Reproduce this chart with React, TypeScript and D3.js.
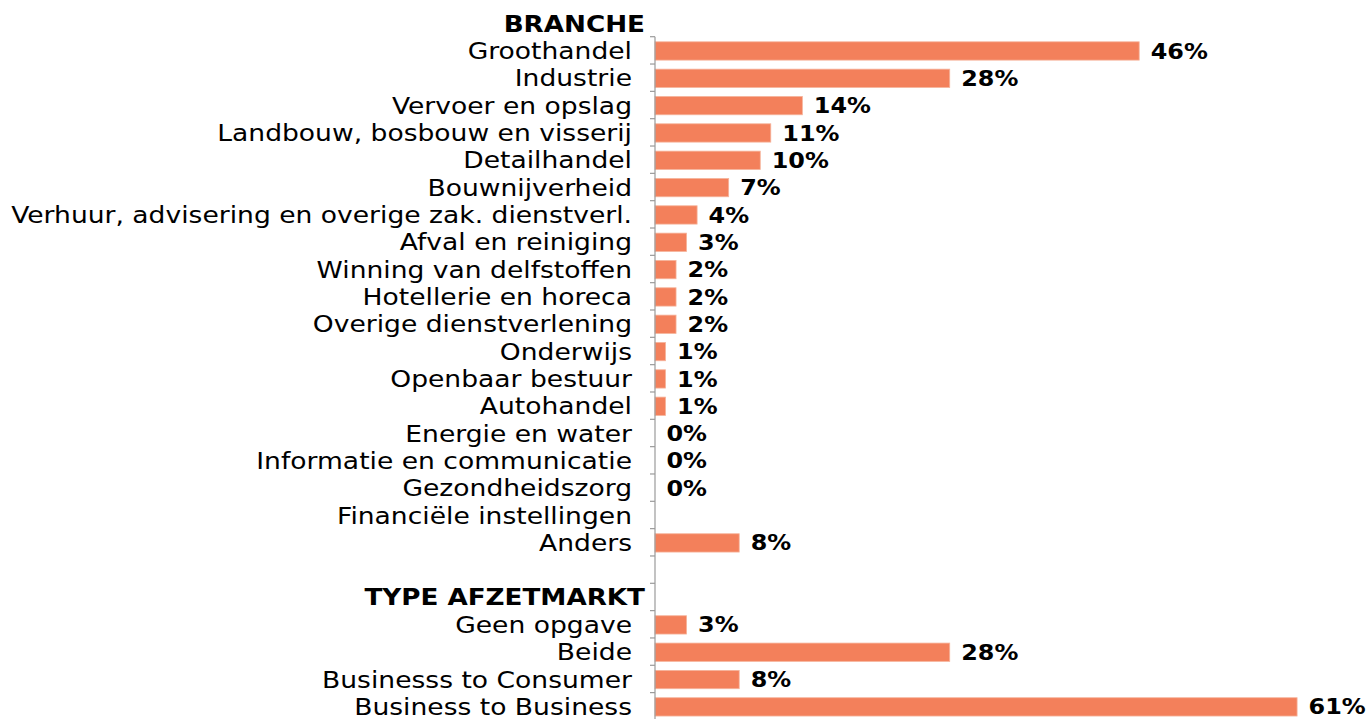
import React from "react";
import * as d3 from "d3";

const brancheTitle = "BRANCHE";
const brancheCategories = [
  "Groothandel",
  "Industrie",
  "Vervoer en opslag",
  "Landbouw, bosbouw en visserij",
  "Detailhandel",
  "Bouwnijverheid",
  "Verhuur, advisering en overige zak. dienstverl.",
  "Afval en reiniging",
  "Winning van delfstoffen",
  "Hotellerie en horeca",
  "Overige dienstverlening",
  "Onderwijs",
  "Openbaar bestuur",
  "Autohandel",
  "Energie en water",
  "Informatie en communicatie",
  "Gezondheidszorg",
  "Financiële instellingen",
  "Anders",
];
const brancheValues: (number | null)[] = [46, 28, 14, 11, 10, 7, 4, 3, 2, 2, 2, 1, 1, 1, 0, 0, 0, null, 8];

const afzetTitle = "TYPE AFZETMARKT";
const afzetCategories = ["Geen opgave", "Beide", "Businesss to Consumer", "Business to Business"];
const afzetValues: (number | null)[] = [3, 28, 8, 61];

const W = 1368;
const H = 719;
const SX = 1.165; // horizontal stretch of the original picture
const FONT = "'DejaVu Sans', Verdana, sans-serif";
const BAR = "#F3805B";

type Row = { key: string; label: string; value: number | null; kind: "header" | "cat" | "gap" };

const rows: Row[] = [
  { key: "h1", label: brancheTitle, value: null, kind: "header" },
  ...brancheCategories.map((c, i) => ({ key: "b" + i, label: c, value: brancheValues[i], kind: "cat" as const })),
  { key: "gap", label: "", value: null, kind: "gap" },
  { key: "h2", label: afzetTitle, value: null, kind: "header" },
  ...afzetCategories.map((c, i) => ({ key: "a" + i, label: c, value: afzetValues[i], kind: "cat" as const })),
];

export default function App() {
  const axisX = 655;
  const bandStep = 27.33;
  const top = 36.7 - bandStep;
  const y = d3
    .scaleBand<string>()
    .domain(rows.map((r) => r.key))
    .range([top, top + bandStep * rows.length])
    .paddingInner(0.33)
    .paddingOuter(0.165);
  const x = d3.scaleLinear().domain([0, 1]).range([axisX, axisX + 1052.6]);

  const step = y.step();
  const axisTop = top + step; // axis starts below the first header
  const axisBottom = top + step * rows.length;
  const tickYs = d3.range(1, rows.length + 1).map((i) => top + i * step);

  return (
    <svg
      width={W}
      height={H}
      style={{ position: "absolute", left: 0, top: 0, background: "#fff" }}
      fontFamily={FONT}
    >
      {/* bars */}
      {rows.map((r) =>
        r.kind === "cat" && r.value != null && r.value > 0 ? (
          <rect
            key={"bar" + r.key}
            x={x(0)}
            y={(y(r.key) as number) + 0.6}
            width={x(r.value / 100) - x(0)}
            height={y.bandwidth()}
            fill={BAR}
            stroke="#f6b39b"
            strokeWidth={0.8}
          />
        ) : null
      )}

      {/* axis */}
      <line x1={axisX} x2={axisX} y1={axisTop} y2={axisBottom} stroke="#9a9a9a" strokeWidth={1.2} />
      {tickYs.map((ty, i) => (
        <line key={"t" + i} x1={axisX - 5} x2={axisX} y1={ty} y2={ty} stroke="#9a9a9a" strokeWidth={1.2} />
      ))}

      {/* category labels */}
      {rows.map((r) => {
        const cy = (y(r.key) as number) + y.bandwidth() / 2 + 0.4;
        if (r.kind === "header") {
          return (
            <text
              key={"l" + r.key}
              transform={`translate(${645},${cy}) scale(${SX},1)`}
              textAnchor="end"
              dy="0.36em"
              fontSize={22.5}
              fontWeight="bold"
              fill="#000"
            >
              {r.label}
            </text>
          );
        }
        if (r.kind === "cat") {
          return (
            <text
              key={"l" + r.key}
              transform={`translate(${632},${cy}) scale(${SX},1)`}
              textAnchor="end"
              dy="0.36em"
              fontSize={22.8}
              fill="#000"
            >
              {r.label}
            </text>
          );
        }
        return null;
      })}

      {/* value labels */}
      {rows.map((r) => {
        if (r.kind !== "cat" || r.value == null) return null;
        const cy = (y(r.key) as number) + y.bandwidth() / 2 + 0.8;
        return (
          <text
            key={"v" + r.key}
            transform={`translate(${x(r.value / 100) + 11.5},${cy}) scale(${SX},1)`}
            dy="0.36em"
            fontSize={20.5}
            fontWeight="bold"
            fill="#000"
          >
            {d3.format(".0f")(r.value) + "%"}
          </text>
        );
      })}
    </svg>
  );
}
